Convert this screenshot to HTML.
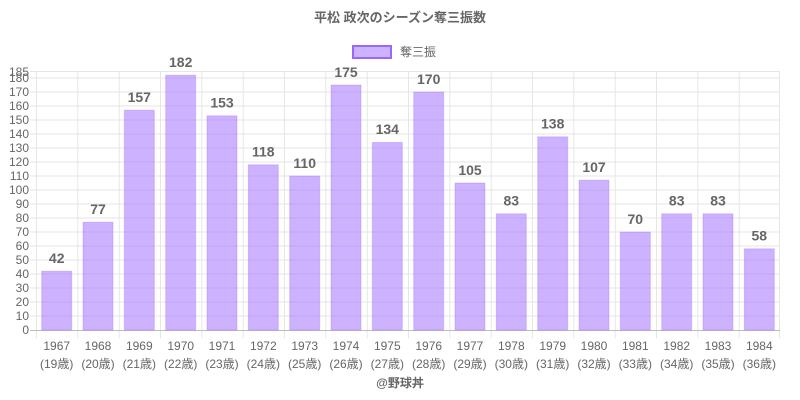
<!DOCTYPE html>
<html><head><meta charset="utf-8"><style>
body{margin:0;background:#fff}
svg{display:block;font-family:"Liberation Sans","Noto Sans CJK JP",sans-serif}
</style></head><body>
<svg width="800" height="400" viewBox="0 0 800 400">
<text x="400" y="22" text-anchor="middle" font-size="13" font-weight="bold" fill="#666">平松 政次のシーズン奪三振数</text>
<rect x="353" y="46" width="38" height="12" fill="rgba(153,102,255,0.5)" stroke="#9966ff" stroke-width="2"/>
<text x="400" y="56" font-size="12" fill="#666">奪三振</text>
<g stroke="#e6e6e6" stroke-width="1">
<line x1="30" y1="71.5" x2="780" y2="71.5"/>
<line x1="30" y1="78" x2="780" y2="78"/><line x1="30" y1="92" x2="780" y2="92"/><line x1="30" y1="106" x2="780" y2="106"/><line x1="30" y1="120" x2="780" y2="120"/><line x1="30" y1="134" x2="780" y2="134"/><line x1="30" y1="148" x2="780" y2="148"/><line x1="30" y1="162" x2="780" y2="162"/><line x1="30" y1="176" x2="780" y2="176"/><line x1="30" y1="190" x2="780" y2="190"/><line x1="30" y1="204" x2="780" y2="204"/><line x1="30" y1="218" x2="780" y2="218"/><line x1="30" y1="232" x2="780" y2="232"/><line x1="30" y1="246" x2="780" y2="246"/><line x1="30" y1="260" x2="780" y2="260"/><line x1="30" y1="274" x2="780" y2="274"/><line x1="30" y1="288" x2="780" y2="288"/><line x1="30" y1="302" x2="780" y2="302"/><line x1="30" y1="316" x2="780" y2="316"/>
<line x1="36.5" y1="71" x2="36.5" y2="338"/><line x1="77.8" y1="71" x2="77.8" y2="338"/><line x1="119.2" y1="71" x2="119.2" y2="338"/><line x1="160.5" y1="71" x2="160.5" y2="338"/><line x1="201.8" y1="71" x2="201.8" y2="338"/><line x1="243.2" y1="71" x2="243.2" y2="338"/><line x1="284.5" y1="71" x2="284.5" y2="338"/><line x1="325.8" y1="71" x2="325.8" y2="338"/><line x1="367.2" y1="71" x2="367.2" y2="338"/><line x1="408.5" y1="71" x2="408.5" y2="338"/><line x1="449.8" y1="71" x2="449.8" y2="338"/><line x1="491.2" y1="71" x2="491.2" y2="338"/><line x1="532.5" y1="71" x2="532.5" y2="338"/><line x1="573.8" y1="71" x2="573.8" y2="338"/><line x1="615.2" y1="71" x2="615.2" y2="338"/><line x1="656.5" y1="71" x2="656.5" y2="338"/><line x1="697.8" y1="71" x2="697.8" y2="338"/><line x1="739.2" y1="71" x2="739.2" y2="338"/><line x1="779.5" y1="71" x2="779.5" y2="338"/>
</g>
<line x1="30" y1="330.5" x2="780" y2="330.5" stroke="#bbb"/>
<g font-size="12" fill="#666" text-anchor="end">
<text x="29" y="76">185</text><text x="29" y="82">180</text><text x="29" y="96">170</text><text x="29" y="110">160</text><text x="29" y="124">150</text><text x="29" y="138">140</text><text x="29" y="152">130</text><text x="29" y="166">120</text><text x="29" y="180">110</text><text x="29" y="194">100</text><text x="29" y="208">90</text><text x="29" y="222">80</text><text x="29" y="236">70</text><text x="29" y="250">60</text><text x="29" y="264">50</text><text x="29" y="278">40</text><text x="29" y="292">30</text><text x="29" y="306">20</text><text x="29" y="320">10</text><text x="29" y="334">0</text>
</g>
<g fill="rgba(153,102,255,0.5)" stroke="rgba(153,102,255,0.3)" stroke-width="1">
<rect x="41.7" y="271.2" width="30" height="58.8"/>
<rect x="83" y="222.2" width="30" height="107.8"/>
<rect x="124.3" y="110.2" width="30" height="219.8"/>
<rect x="165.7" y="75.2" width="30" height="254.8"/>
<rect x="207" y="115.8" width="30" height="214.2"/>
<rect x="248.3" y="164.8" width="30" height="165.2"/>
<rect x="289.7" y="176" width="30" height="154"/>
<rect x="331" y="85" width="30" height="245"/>
<rect x="372.3" y="142.4" width="30" height="187.6"/>
<rect x="413.7" y="92" width="30" height="238"/>
<rect x="455" y="183" width="30" height="147"/>
<rect x="496.3" y="213.8" width="30" height="116.2"/>
<rect x="537.7" y="136.8" width="30" height="193.2"/>
<rect x="579" y="180.2" width="30" height="149.8"/>
<rect x="620.3" y="232" width="30" height="98"/>
<rect x="661.7" y="213.8" width="30" height="116.2"/>
<rect x="703" y="213.8" width="30" height="116.2"/>
<rect x="744.3" y="248.8" width="30" height="81.2"/>
</g>
<g font-size="14" font-weight="bold" fill="#666" text-anchor="middle">
<text x="56.7" y="263">42</text><text x="98" y="214">77</text><text x="139.3" y="102">157</text><text x="180.7" y="67">182</text><text x="222" y="107.5">153</text><text x="263.3" y="156.5">118</text><text x="304.7" y="168">110</text><text x="346" y="77">175</text><text x="387.3" y="134">134</text><text x="428.7" y="84">170</text><text x="470" y="175">105</text><text x="511.3" y="205.5">83</text><text x="552.7" y="128.5">138</text><text x="594" y="172">107</text><text x="635.3" y="224">70</text><text x="676.7" y="205.5">83</text><text x="718" y="205.5">83</text><text x="759.3" y="240.5">58</text>
</g>
<g font-size="12" fill="#666" text-anchor="middle">
<text x="56.7" y="350">1967</text><text x="98" y="350">1968</text><text x="139.3" y="350">1969</text><text x="180.7" y="350">1970</text><text x="222" y="350">1971</text><text x="263.3" y="350">1972</text><text x="304.7" y="350">1973</text><text x="346" y="350">1974</text><text x="387.3" y="350">1975</text><text x="428.7" y="350">1976</text><text x="470" y="350">1977</text><text x="511.3" y="350">1978</text><text x="552.7" y="350">1979</text><text x="594" y="350">1980</text><text x="635.3" y="350">1981</text><text x="676.7" y="350">1982</text><text x="718" y="350">1983</text><text x="759.3" y="350">1984</text>
<text x="56.7" y="368">(19歳)</text><text x="98" y="368">(20歳)</text><text x="139.3" y="368">(21歳)</text><text x="180.7" y="368">(22歳)</text><text x="222" y="368">(23歳)</text><text x="263.3" y="368">(24歳)</text><text x="304.7" y="368">(25歳)</text><text x="346" y="368">(26歳)</text><text x="387.3" y="368">(27歳)</text><text x="428.7" y="368">(28歳)</text><text x="470" y="368">(29歳)</text><text x="511.3" y="368">(30歳)</text><text x="552.7" y="368">(31歳)</text><text x="594" y="368">(32歳)</text><text x="635.3" y="368">(33歳)</text><text x="676.7" y="368">(34歳)</text><text x="718" y="368">(35歳)</text><text x="759.3" y="368">(36歳)</text>
</g>
<text x="400" y="387" text-anchor="middle" font-size="12" font-weight="bold" fill="#666">@野球丼</text>
</svg>
</body></html>
